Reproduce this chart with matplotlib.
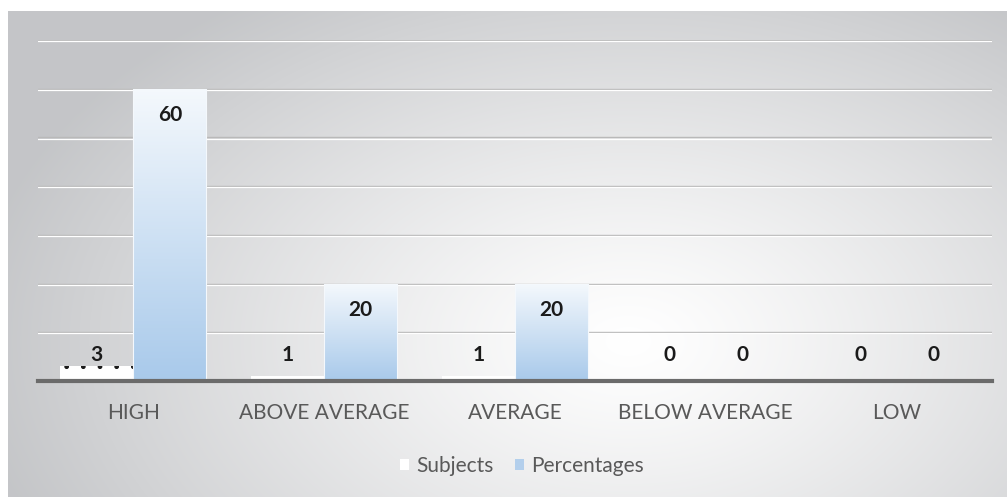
import numpy as np
import matplotlib.pyplot as plt
import matplotlib.transforms as mtransforms
from matplotlib.patches import Patch

plt.rcParams['font.family'] = ['Lato', 'DejaVu Sans']
plt.rcParams['hatch.linewidth'] = 1.0

categories = ['HIGH', 'ABOVE AVERAGE', 'AVERAGE', 'BELOW AVERAGE', 'LOW']
subjects = [3, 1, 1, 0, 0]
percentages = [60, 20, 20, 0, 0]

W, H = 1007, 497
fig = plt.figure(figsize=(W / 100, H / 100), dpi=100)
fig.patch.set_facecolor('white')

# grey panel with a soft radial highlight
pw, ph = 999, 486
bg = fig.add_axes([8 / W, 0, pw / W, ph / H], zorder=0)
yy, xx = np.mgrid[0:ph, 0:pw]
d = np.sqrt(((xx - 620) / 660) ** 2 + ((yy - 330) / 420) ** 2)
t = np.clip(d, 0, 1) ** 1.2
white = np.array([1.0, 1.0, 1.0])
grey = np.array([0.77, 0.775, 0.785])
rgb = white[None, None, :] * (1 - t[..., None]) + grey[None, None, :] * t[..., None]
bg.imshow(rgb, aspect='auto', interpolation='bilinear')
bg.axis('off')

ax = fig.add_axes([38 / W, (H - 381) / H, (992 - 38) / W, (381 - 40) / H], zorder=1)
ax.patch.set_alpha(0)

x = np.arange(len(categories))
width = 0.383

# gridlines with a light highlight just beneath
hl = mtransforms.offset_copy(ax.transData, fig=fig, x=0, y=-1.2, units='dots')
for g in range(10, 71, 10):
    ax.axhline(g, color='#b9b9b9', lw=1.0, zorder=1)
    ax.plot([-0.5, 4.5], [g, g], color='white', lw=0.9, transform=hl, zorder=1)

ax.bar(x - width / 2, subjects, width, color='white', edgecolor='#1a1a1a',
       hatch='.', linewidth=0, zorder=2)

pbars = ax.bar(x + width / 2, percentages, width, color='none',
               edgecolor='#f4f8fc', linewidth=0.8, zorder=3)
grad = np.linspace(0, 1, 256)[:, None]
top = np.array([0.96, 0.975, 0.99])
bot = np.array([0.66, 0.79, 0.92])
col = top[None, None, :] * (1 - grad[..., None]) + bot[None, None, :] * grad[..., None]
for b, v in zip(pbars, percentages):
    if v <= 0:
        continue
    x0 = b.get_x()
    im = ax.imshow(col, extent=[x0, x0 + b.get_width(), 0, v],
                   aspect='auto', zorder=2.5, interpolation='bilinear')
    im.set_clip_path(b)

# value labels
lab = dict(ha='center', va='center', fontsize=15, fontweight='bold',
           color='#1a1a1a', zorder=4, textcoords='offset pixels')
for xi, v in zip(x - width / 2, subjects):
    ax.annotate(str(v), (xi, 0), xytext=(0, 26), **lab)
for xi, v in zip(x + width / 2, percentages):
    if v >= 10:
        ax.annotate(str(v), (xi, v), xytext=(0, -26), **lab)
    else:
        ax.annotate(str(v), (xi, 0), xytext=(0, 26), **lab)

ax.set_xlim(-0.5, 4.5)
ax.set_ylim(0, 70)
ax.set_yticks([])
ax.set_xticks(x, categories)
ax.tick_params(axis='x', length=0, pad=16, labelsize=15, labelcolor='#595959')
for s in ['top', 'right', 'left']:
    ax.spines[s].set_visible(False)
ax.spines['bottom'].set_color('#6b6b6b')
ax.spines['bottom'].set_linewidth(3)
ax.spines['bottom'].set_zorder(5)

handles = [Patch(facecolor='white', edgecolor='none', label='Subjects'),
           Patch(facecolor='#b3cfec', edgecolor='none', label='Percentages')]
leg = fig.legend(handles=handles, loc='center', bbox_to_anchor=(522 / W, 1 - 466 / H),
                 ncol=2, frameon=False, fontsize=15, handlelength=0.45, handleheight=0.45,
                 handletextpad=0.35, columnspacing=1.0)
for txt in leg.get_texts():
    txt.set_color('#595959')

fig.savefig('out.png', dpi=100)
